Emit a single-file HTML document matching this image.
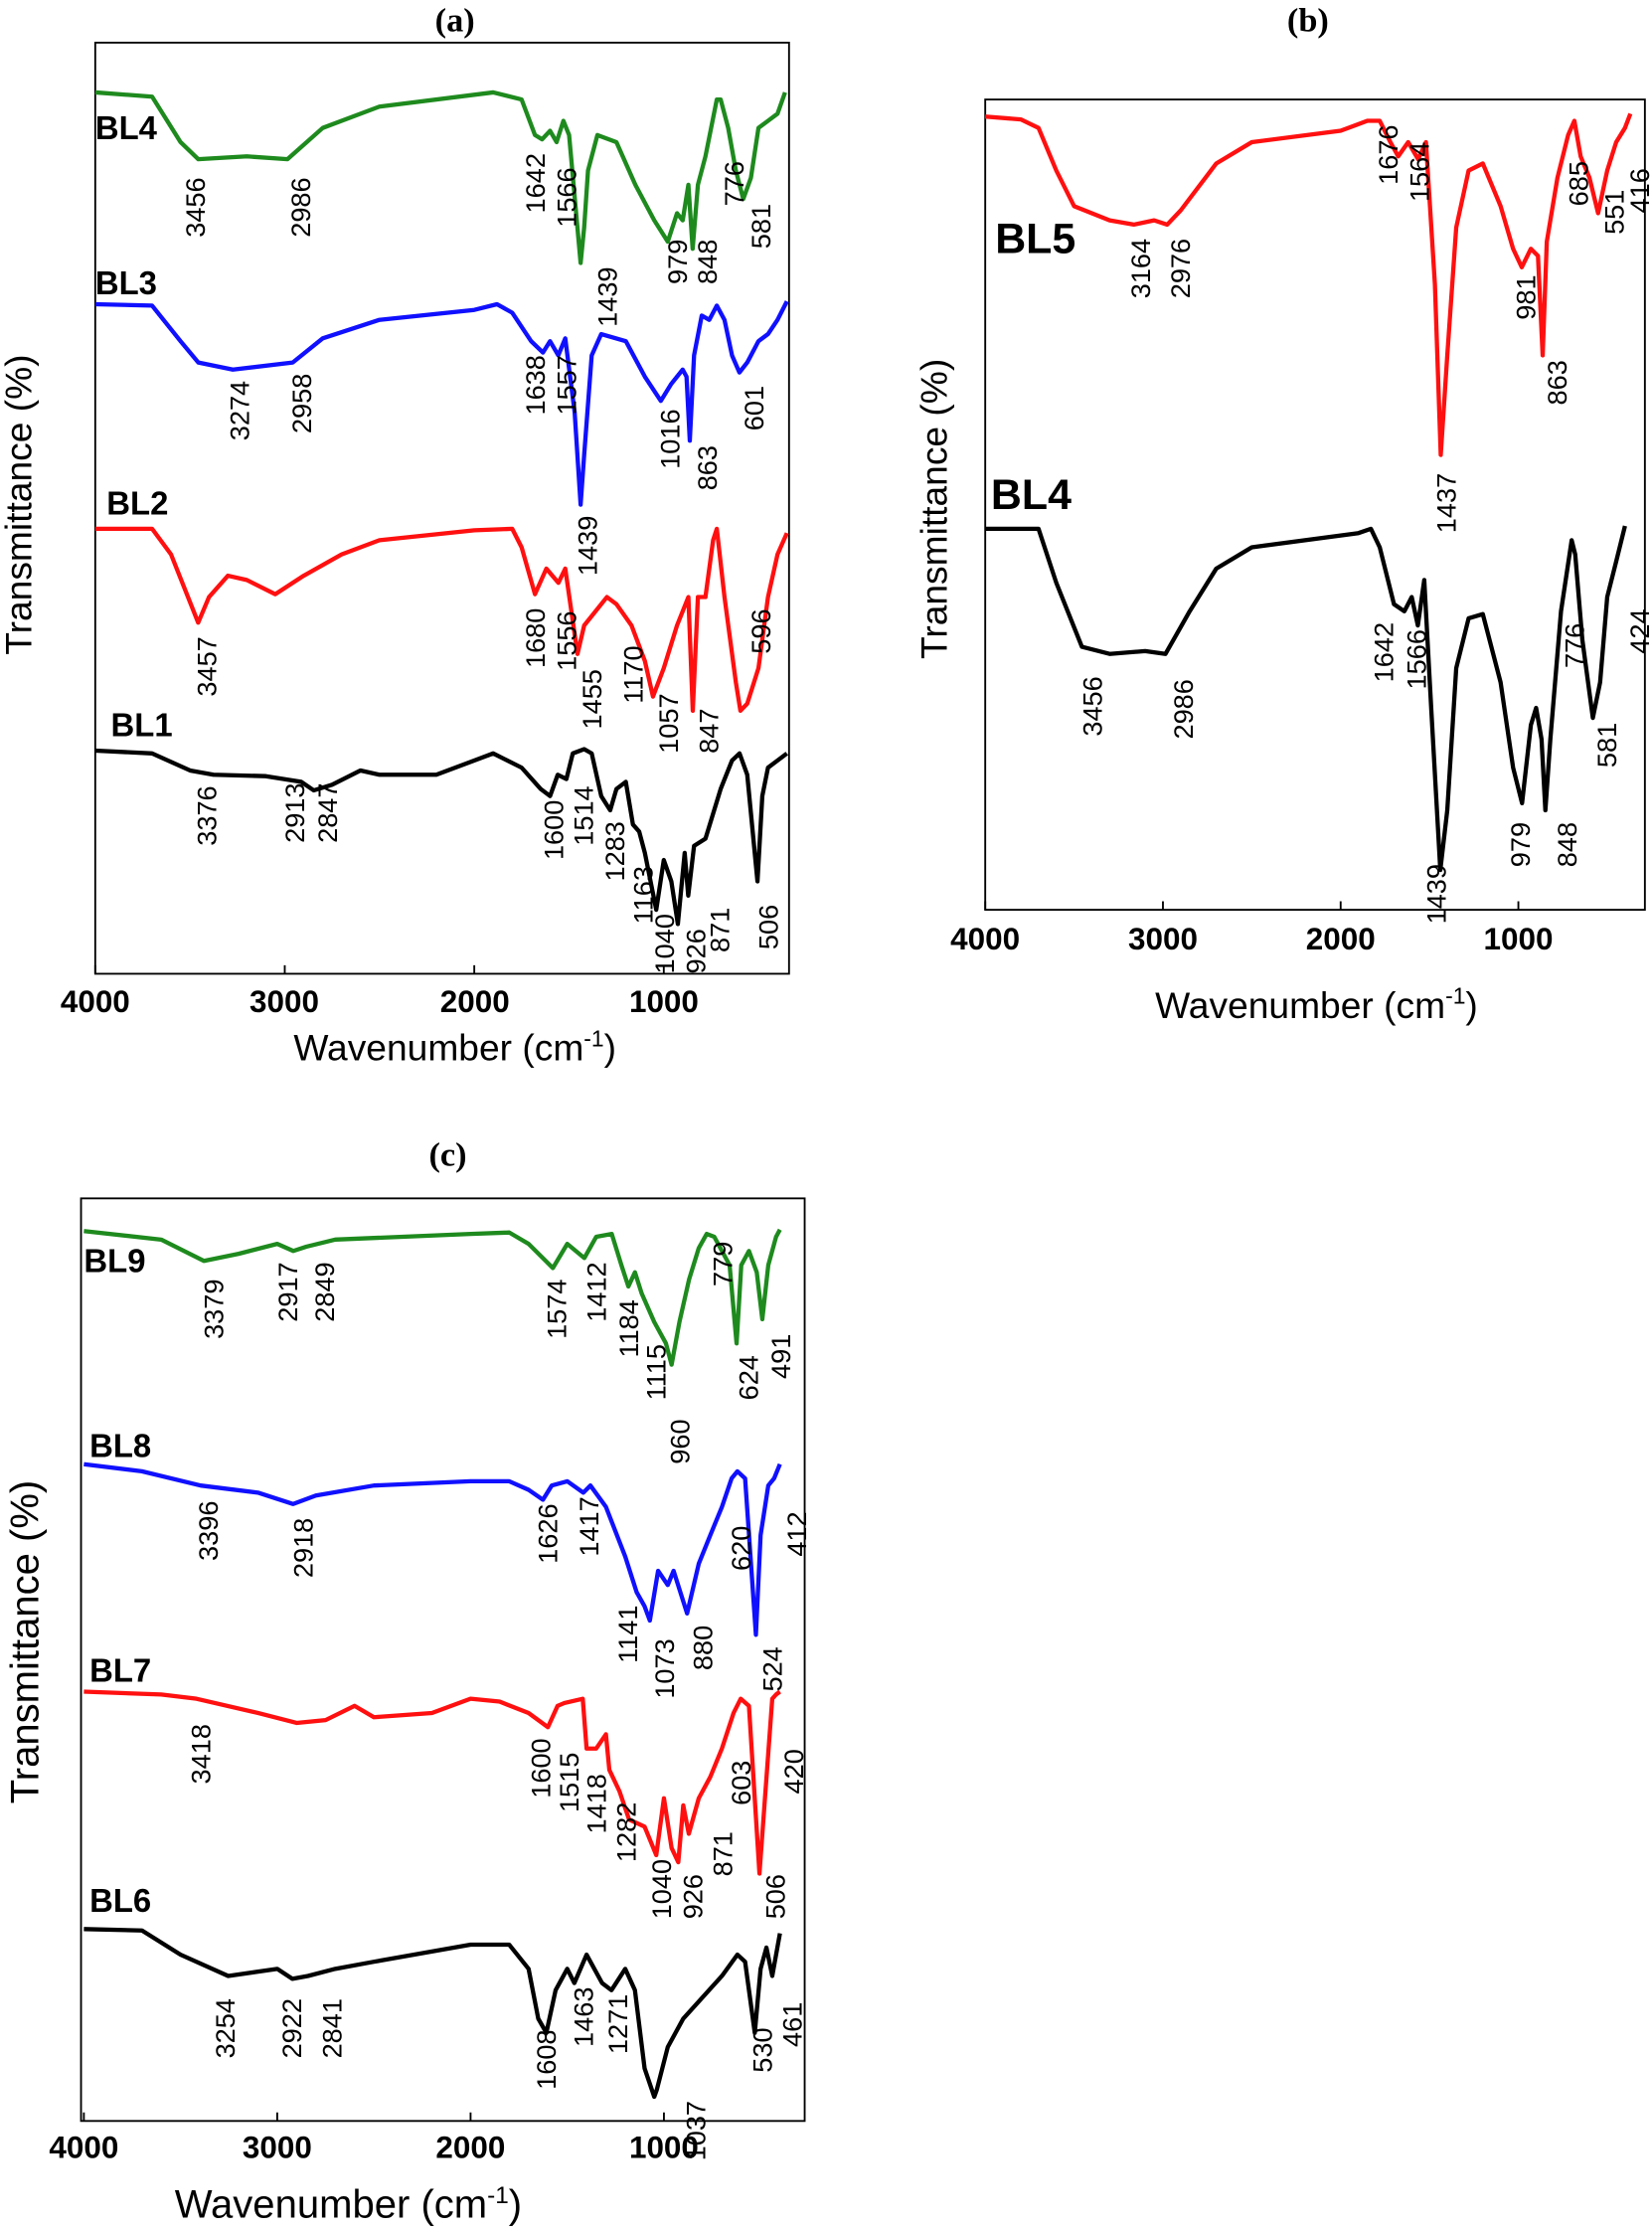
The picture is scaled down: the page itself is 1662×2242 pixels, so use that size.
<!DOCTYPE html>
<html><head><meta charset="utf-8"><style>
html,body{margin:0;padding:0;background:#fff}
svg{display:block}
text{font-family:"Liberation Sans",sans-serif}
.n{font-size:19px}
.s{font-size:23px;font-weight:bold}
.t{font-size:22px;font-weight:bold}
.ax{font-size:26px}
.ti{font-family:"Liberation Serif",serif;font-size:24px;font-weight:bold}
</style></head><body>
<svg id="svg" width="1662" height="2242" viewBox="0 0 1162 1568" preserveAspectRatio="none" xmlns="http://www.w3.org/2000/svg">
<rect width="1162" height="1568" fill="#fff"/>
<g fill="none" stroke="#000" stroke-width="1.3">
<rect x="67" y="30" width="488" height="655"/>
<rect x="693" y="70" width="464" height="570"/>
<rect x="57" y="843" width="509" height="649"/>
</g>
<g id="curves" fill="none" stroke-width="3" stroke-linejoin="round"></g>
<g id="ticks" stroke="#000" stroke-width="1.3"></g>
<text class="ti" x="320" y="22" text-anchor="middle">(a)</text>
<text class="ti" x="920" y="22" text-anchor="middle">(b)</text>
<text class="ti" x="315" y="820" text-anchor="middle">(c)</text>
<g class="t" text-anchor="middle">
<text x="67" y="712">4000</text><text x="200" y="712">3000</text><text x="334" y="712">2000</text><text x="467" y="712">1000</text>
<text x="693" y="668">4000</text><text x="818" y="668">3000</text><text x="943" y="668">2000</text><text x="1068" y="668">1000</text>
<text x="59" y="1518">4000</text><text x="195" y="1518">3000</text><text x="331" y="1518">2000</text><text x="467" y="1518">1000</text>
</g>
<g class="ax" text-anchor="middle">
<text x="320" y="746">Wavenumber (cm<tspan font-size="16" dy="-10">-1</tspan><tspan dy="10">)</tspan></text>
<text x="926" y="716">Wavenumber (cm<tspan font-size="16" dy="-10">-1</tspan><tspan dy="10">)</tspan></text>
<text x="245" y="1560" font-size="28">Wavenumber (cm<tspan font-size="17" dy="-10">-1</tspan><tspan dy="10">)</tspan></text>
<text transform="translate(22,355) rotate(-90)">Transmittance (%)</text>
<text transform="translate(666,358) rotate(-90)">Transmittance (%)</text>
<text transform="translate(27,1155) rotate(-90)" font-size="28">Transmittance (%)</text>
</g>
<g class="s">
<text x="67" y="98">BL4</text><text x="67" y="207">BL3</text><text x="75" y="362">BL2</text><text x="78" y="518">BL1</text>
<text x="700" y="178" font-size="30">BL5</text><text x="697" y="358" font-size="30">BL4</text>
<text x="59" y="895">BL9</text><text x="63" y="1025">BL8</text><text x="63" y="1183">BL7</text><text x="63" y="1345">BL6</text>
</g>
<g id="labels" class="n"></g>
</svg>
<script>
var NS="http://www.w3.org/2000/svg";
function X(p,w){if(p=='a')return 67+(4000-w)*0.1333;if(p=='b')return 693+(4000-w)*0.125;return 59+(4000-w)*0.136;}
function curve(p,col,pts){var d="";for(var i=0;i<pts.length;i+=2){d+=(i?"L":"M")+X(p,pts[i]).toFixed(1)+","+pts[i+1];}
var e=document.createElementNS(NS,"path");e.setAttribute("d",d);e.setAttribute("stroke",col);document.getElementById("curves").appendChild(e);}
var G="#1e8a1e",B="#1010ff",R="#ff1010",K="#000";
curve('a',G,[4000,65,3700,68,3550,100,3456,112,3200,110,2986,112,2800,90,2500,75,1900,65,1750,70,1680,95,1642,98,1600,92,1566,100,1530,85,1500,95,1439,185,1420,160,1400,120,1350,95,1250,100,1150,130,1050,155,979,170,930,150,900,155,870,130,848,175,820,130,780,110,720,70,700,70,660,90,620,120,581,140,540,125,500,90,450,85,400,80,360,65]);
curve('a',B,[4000,214,3700,215,3550,240,3456,255,3274,260,2958,255,2800,238,2500,225,2000,218,1880,214,1800,220,1700,240,1638,248,1600,240,1557,250,1520,238,1470,290,1439,355,1420,320,1380,250,1330,235,1200,240,1100,265,1016,282,960,270,900,260,880,265,863,310,840,250,800,222,760,225,720,215,680,225,640,250,601,262,560,255,500,240,450,235,400,225,350,212]);
curve('a',R,[4000,372,3700,372,3600,390,3457,438,3400,420,3300,405,3200,408,3050,418,2900,405,2700,390,2500,380,2000,373,1800,372,1750,385,1680,418,1620,400,1556,410,1520,400,1455,460,1420,440,1300,420,1250,425,1170,440,1100,465,1057,490,1000,470,930,440,870,420,847,500,820,420,780,420,740,380,720,372,680,420,620,480,596,500,560,495,500,470,450,420,400,390,350,375]);
curve('a',K,[4000,528,3700,530,3500,542,3376,545,3100,546,2913,550,2847,556,2750,552,2600,542,2500,545,2200,545,1900,530,1750,540,1650,555,1600,560,1560,545,1514,548,1480,530,1420,527,1380,530,1330,560,1283,570,1250,555,1200,550,1163,580,1130,585,1100,600,1040,640,1000,605,960,620,926,650,890,600,871,630,840,595,780,590,700,555,640,535,600,530,560,545,506,620,480,560,450,540,400,535,350,530]);
curve('b',R,[4000,82,3800,84,3700,90,3600,120,3500,145,3300,155,3164,158,3050,155,2976,158,2900,148,2700,115,2500,100,2000,92,1850,85,1780,85,1720,100,1676,110,1620,100,1564,112,1520,100,1470,200,1437,320,1400,250,1350,160,1280,120,1200,115,1100,145,1030,175,981,188,930,175,890,180,863,250,840,170,780,125,720,95,685,85,650,110,600,125,551,150,500,120,450,100,400,90,370,80]);
curve('b',K,[4000,372,3700,372,3600,410,3456,455,3300,460,3100,458,2986,460,2850,430,2700,400,2500,385,1900,375,1830,372,1780,385,1700,425,1642,430,1600,420,1566,440,1530,408,1490,500,1439,612,1400,570,1350,470,1280,435,1200,432,1100,480,1030,540,979,565,930,510,900,498,870,520,848,570,820,520,760,430,700,380,680,390,640,450,581,505,540,480,500,420,450,395,400,370]);
curve('c',G,[4000,866,3600,872,3379,887,3200,882,3000,875,2917,880,2849,877,2700,872,2000,868,1800,867,1700,875,1574,892,1500,875,1412,885,1350,870,1270,868,1220,890,1184,905,1150,895,1115,910,1050,930,990,945,960,960,920,930,870,900,820,878,779,868,740,870,700,880,660,890,624,945,600,890,560,880,520,895,491,928,460,890,420,870,400,865]);
curve('c',B,[4000,1030,3700,1035,3396,1045,3100,1050,2918,1058,2800,1052,2500,1045,2000,1042,1800,1042,1700,1048,1626,1055,1580,1045,1500,1042,1417,1050,1380,1045,1300,1060,1200,1095,1141,1120,1100,1130,1073,1140,1030,1105,980,1115,950,1105,880,1135,820,1100,760,1080,700,1060,650,1040,620,1035,580,1040,524,1150,500,1080,460,1045,430,1040,400,1030]);
curve('c',R,[4000,1190,3600,1192,3418,1195,3100,1205,2900,1212,2750,1210,2600,1200,2500,1208,2200,1205,2000,1195,1850,1197,1700,1205,1600,1215,1550,1200,1515,1198,1420,1195,1400,1230,1350,1230,1300,1220,1282,1245,1230,1260,1180,1280,1100,1285,1040,1305,1000,1265,960,1300,926,1310,900,1270,871,1290,820,1265,760,1250,700,1230,640,1205,603,1195,560,1200,506,1318,480,1270,440,1195,420,1192,400,1190]);
curve('c',K,[4000,1357,3700,1358,3500,1375,3254,1390,3000,1385,2922,1392,2841,1390,2700,1385,2500,1380,2000,1368,1800,1368,1700,1385,1650,1420,1608,1430,1560,1400,1500,1385,1463,1395,1400,1375,1320,1395,1271,1400,1200,1385,1150,1400,1100,1455,1050,1475,1037,1470,980,1440,900,1420,800,1405,700,1390,620,1375,580,1380,530,1430,500,1385,470,1370,440,1390,400,1360]);
var L=[
[137,167,"3456"],[211,167,"2986"],[376,150,"1642"],[398,160,"1566"],[427,230,"1439"],[476,200,"979"],[497,200,"848"],[516,145,"776"],[535,175,"581"],
[168,310,"3274"],[212,305,"2958"],[376,292,"1638"],[398,292,"1557"],[413,405,"1439"],[471,330,"1016"],[497,345,"863"],[530,303,"601"],
[145,490,"3457"],[376,470,"1680"],[398,472,"1556"],[416,513,"1455"],[445,495,"1170"],[470,530,"1057"],[498,530,"847"],[535,460,"596"],
[145,595,"3376"],[207,593,"2913"],[230,593,"2847"],[389,605,"1600"],[410,595,"1514"],[432,620,"1283"],[452,650,"1163"],[467,685,"1040"],[489,685,"926"],[506,670,"871"],[540,668,"506"],
[976,130,"1676"],[998,142,"1564"],[1110,145,"685"],[1135,165,"551"],[1153,150,"416"],[802,210,"3164"],[830,210,"2976"],[1073,225,"981"],[1095,285,"863"],[1017,375,"1437"],
[768,518,"3456"],[832,520,"2986"],[973,480,"1642"],[996,485,"1566"],[1107,470,"776"],[1153,460,"424"],[1130,540,"581"],[1069,610,"979"],[1102,610,"848"],[1010,650,"1439"],
[150,942,"3379"],[202,930,"2917"],[228,930,"2849"],[391,942,"1574"],[419,930,"1412"],[442,955,"1184"],[461,985,"1115"],[478,1030,"960"],[508,905,"779"],[526,985,"624"],[549,970,"491"],
[146,1098,"3396"],[213,1110,"2918"],[385,1100,"1626"],[414,1095,"1417"],[441,1170,"1141"],[467,1195,"1073"],[494,1175,"880"],[521,1105,"620"],[543,1190,"524"],[560,1095,"412"],
[141,1255,"3418"],[380,1265,"1600"],[400,1275,"1515"],[419,1290,"1418"],[440,1310,"1282"],[465,1350,"1040"],[487,1350,"926"],[508,1320,"871"],[521,1270,"603"],[545,1350,"506"],[558,1262,"420"],
[158,1448,"3254"],[205,1448,"2922"],[233,1448,"2841"],[384,1470,"1608"],[410,1440,"1463"],[434,1445,"1271"],[489,1520,"1037"],[536,1458,"530"],[557,1440,"461"]];
var lg=document.getElementById("labels");
L.forEach(function(l){var t=document.createElementNS(NS,"text");t.setAttribute("transform","translate("+(l[0]+7)+","+l[1]+") rotate(-90)");t.textContent=l[2];lg.appendChild(t);});
var tg=document.getElementById("ticks");
function tk(x,y){var e=document.createElementNS(NS,"line");e.setAttribute("x1",x);e.setAttribute("x2",x);e.setAttribute("y1",y);e.setAttribute("y2",y-6);tg.appendChild(e);}
[4000,3000,2000,1000].forEach(function(w){tk(X('a',w),685);tk(X('b',w),640);tk(X('c',w),1492);});
</script>
</body></html>
